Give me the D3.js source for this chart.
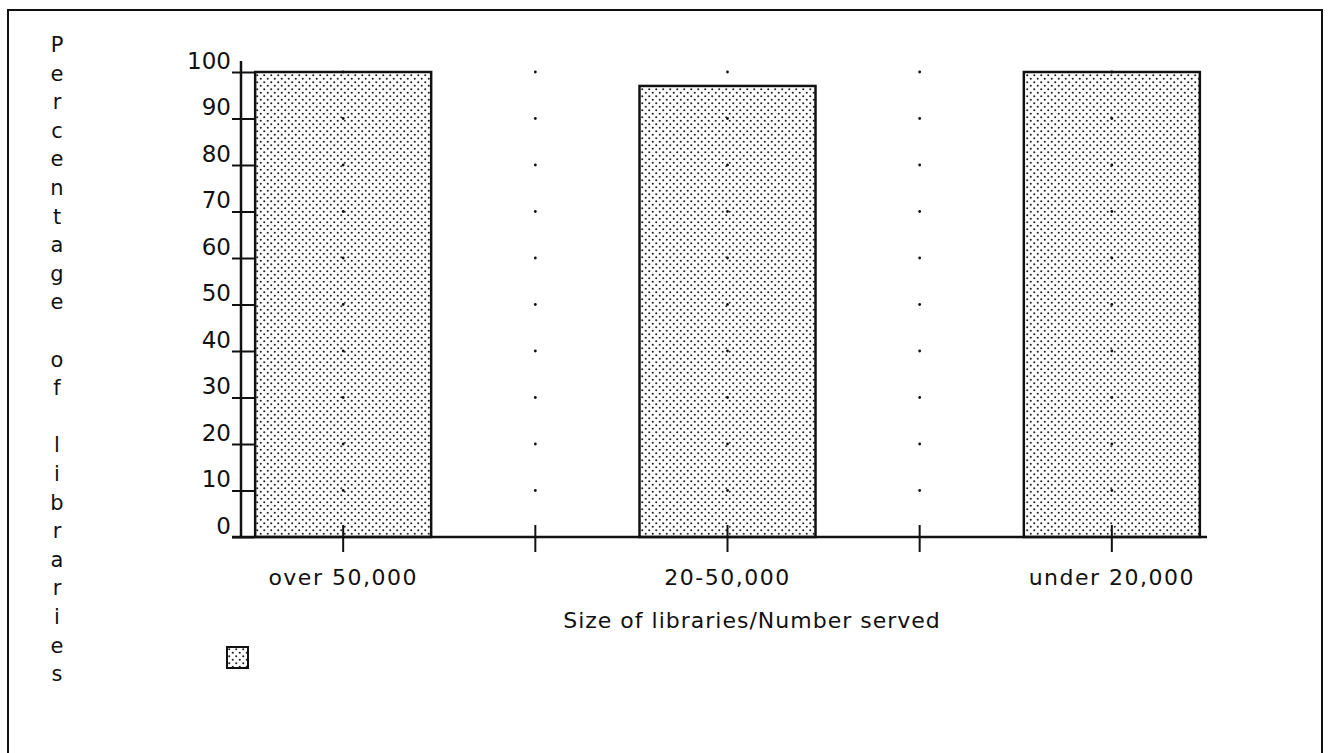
<!DOCTYPE html>
<html>
<head>
<meta charset="utf-8">
<script src="https://cdn.jsdelivr.net/npm/d3@7"></script>
<style>
  body { margin: 0; background: #fff; }
  text { font-family: "DejaVu Sans", sans-serif; fill: #111; }
</style>
</head>
<body>
<script>
var categories = ['over 50,000', '20-50,000', 'under 20,000'];
var percentages = [100, 97, 100];
var yTicks = [0, 10, 20, 30, 40, 50, 60, 70, 80, 90, 100];
var yTitle = 'Percentage of libraries';
var xTitle = 'Size of libraries/Number served';

var width = 1332, height = 753;

var svg = d3.select('body').append('svg')
  .attr('width', width)
  .attr('height', height);

// stipple fill like the printed original
var pat = svg.append('defs').append('pattern')
  .attr('id', 'stipple')
  .attr('patternUnits', 'userSpaceOnUse')
  .attr('width', 7)
  .attr('height', 7);
pat.append('circle').attr('cx', 1.75).attr('cy', 1.75).attr('r', 1.05).attr('fill', '#222');
pat.append('circle').attr('cx', 5.25).attr('cy', 5.25).attr('r', 1.05).attr('fill', '#222');

// outer frame
svg.append('rect')
  .attr('x', 8).attr('y', 10)
  .attr('width', 1314).attr('height', 760)
  .attr('fill', 'none')
  .attr('stroke', '#111')
  .attr('stroke-width', 2);

var x = d3.scaleBand()
  .domain(categories)
  .range([151, 1304]);

var y = d3.scaleLinear()
  .domain([0, 100])
  .range([537, 72]);

var barWidth = 176;
var axisX = 241;

// bars
svg.selectAll('.bar')
  .data(categories)
  .enter().append('rect')
  .attr('class', 'bar')
  .attr('x', function(d) { return x(d) + x.bandwidth() / 2 - barWidth / 2; })
  .attr('y', function(d, i) { return y(percentages[i]); })
  .attr('width', barWidth)
  .attr('height', function(d, i) { return y(0) - y(percentages[i]); })
  .attr('fill', 'url(#stipple)')
  .attr('stroke', '#111')
  .attr('stroke-width', 2.5);

// sparse dotted grid: one dot per tick level at centres and dividers
var gridX = [];
categories.forEach(function(c, i) {
  gridX.push(x(c) + x.bandwidth() / 2);
  if (i > 0) gridX.push(x(c));
});
var gridDots = [];
gridX.forEach(function(gx) {
  yTicks.slice(1).forEach(function(t) { gridDots.push({ x: gx, v: t }); });
});
svg.selectAll('.gdot')
  .data(gridDots)
  .enter().append('circle')
  .attr('class', 'gdot')
  .attr('cx', function(d) { return d.x; })
  .attr('cy', function(d) { return y(d.v); })
  .attr('r', 1.4)
  .attr('fill', '#111');

// y axis
var yAxis = svg.append('g')
  .attr('transform', 'translate(' + axisX + ',0)')
  .call(d3.axisLeft(y).tickValues(yTicks).tickSize(9).tickPadding(10));
yAxis.select('.domain').remove();
yAxis.selectAll('.tick line')
  .attr('x2', -9).attr('x1', 13)
  .attr('stroke', '#111').attr('stroke-width', 2);
yAxis.selectAll('.tick text')
  .attr('x', -10)
  .attr('dy', 0)
  .attr('y', -4)
  .style('font-size', '23px')
  .style('font-family', '"DejaVu Sans", sans-serif')
  .attr('fill', '#111');
svg.append('line')
  .attr('x1', axisX).attr('x2', axisX)
  .attr('y1', 61).attr('y2', y(0))
  .attr('stroke', '#111').attr('stroke-width', 2.5);

// x axis
svg.append('line')
  .attr('x1', 232).attr('x2', 1207)
  .attr('y1', y(0)).attr('y2', y(0))
  .attr('stroke', '#111').attr('stroke-width', 2.5);
svg.selectAll('.xtick')
  .data(gridX)
  .enter().append('line')
  .attr('class', 'xtick')
  .attr('x1', function(d) { return d; })
  .attr('x2', function(d) { return d; })
  .attr('y1', y(0) - 12)
  .attr('y2', y(0) + 15)
  .attr('stroke', '#111').attr('stroke-width', 2);

svg.selectAll('.xlabel')
  .data(categories)
  .enter().append('text')
  .attr('class', 'xlabel')
  .attr('x', function(d) { return x(d) + x.bandwidth() / 2; })
  .attr('y', 585)
  .attr('text-anchor', 'middle')
  .style('font-size', '22px')
  .style('letter-spacing', '1.5px')
  .text(function(d) { return d; });

svg.append('text')
  .attr('x', 752)
  .attr('y', 628)
  .attr('text-anchor', 'middle')
  .style('font-size', '22px')
  .style('letter-spacing', '1px')
  .text(xTitle);

// y title, one letter per line
svg.selectAll('.ychar')
  .data(yTitle.split(''))
  .enter().append('text')
  .attr('class', 'ychar')
  .attr('x', 57)
  .attr('y', function(d, i) { return 52 + i * 28.6; })
  .attr('text-anchor', 'middle')
  .style('font-size', '21px')
  .text(function(d) { return d; });

// legend swatch
svg.append('rect')
  .attr('x', 227).attr('y', 647)
  .attr('width', 21).attr('height', 21)
  .attr('fill', 'url(#stipple)')
  .attr('stroke', '#111')
  .attr('stroke-width', 2);
</script>
</body>
</html>
